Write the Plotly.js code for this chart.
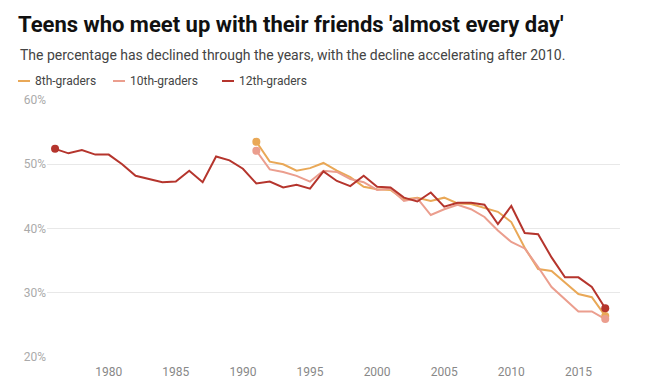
<!DOCTYPE html>
<html>
<head>
<meta charset="utf-8">
<script src="https://cdn.plot.ly/plotly-3.0.1.min.js"></script>
<style>html,body{margin:0;padding:0;background:#fff;}#chart{width:661px;height:385px;}</style>
</head>
<body>
<div id="chart"></div>
<script>
const years12 = [1976,1977,1978,1979,1980,1981,1982,1983,1984,1985,1986,1987,1988,1989,1990,1991,1992,1993,1994,1995,1996,1997,1998,1999,2000,2001,2002,2003,2004,2005,2006,2007,2008,2009,2010,2011,2012,2013,2014,2015,2016,2017];
const grade12 = [52.4,51.7,52.2,51.5,51.5,50.0,48.2,47.7,47.2,47.3,49.0,47.2,51.2,50.6,49.3,47.0,47.3,46.4,46.8,46.2,48.9,47.4,46.6,48.2,46.5,46.4,44.8,44.2,45.6,43.4,44.0,44.0,43.7,40.7,43.5,39.3,39.1,35.5,32.4,32.4,30.9,27.6];
const years810 = [1991,1992,1993,1994,1995,1996,1997,1998,1999,2000,2001,2002,2003,2004,2005,2006,2007,2008,2009,2010,2011,2012,2013,2014,2015,2016,2017];
const grade8 = [53.5,50.4,50.0,49.0,49.4,50.2,49.0,48.0,46.5,46.1,46.0,44.5,44.8,44.3,44.8,43.9,43.8,43.2,42.6,41.0,37.0,33.7,33.4,31.6,29.8,29.3,26.4];
const grade10 = [52.1,49.2,48.8,48.2,47.3,49.0,48.8,47.7,47.2,46.0,46.2,44.3,44.7,42.1,43.0,43.7,43.0,41.8,39.7,37.9,36.9,34.0,30.9,29.0,27.1,27.1,25.9];
const seriesNames = ['8th-graders','10th-graders','12th-graders'];
const tickVals = [20,30,40,50,60];
const tickText = ['20%','30%','40%','50%','60%'];
const xTicks = [1980,1985,1990,1995,2000,2005,2010,2015];

const colors = ['#e9a857','#eb9e8e','#b5352d'];
const series = [[years810, grade8],[years810, grade10],[years12, grade12]];
const traces = [];
series.forEach((s,i)=>{
  traces.push({x:s[0], y:s[1], type:'scatter', mode:'lines', name:seriesNames[i],
    line:{color:colors[i], width:2}, showlegend:false});
});
series.forEach((s,i)=>{
  const n = s[0].length;
  traces.push({x:[s[0][0], s[0][n-1]], y:[s[1][0], s[1][n-1]], type:'scatter', mode:'markers',
    showlegend:false, marker:{color:colors[i], size:8}});
});

// custom legend (short line swatches like the reference)
const W = 661, H = 385, L = 47, R = 41, T = 100, B = 28;
const pw = W - L - R, ph = H - T - B;
const px = v => (v - L) / pw;
const py = v => (H - B - v) / ph;
const legendX = [18, 113, 222];
const legendY = 81;
const shapes = [], annotations = [];
seriesNames.forEach((nm,i)=>{
  shapes.push({type:'line', xref:'paper', yref:'paper', x0:px(legendX[i]), x1:px(legendX[i]+12),
    y0:py(legendY), y1:py(legendY), line:{color:colors[i], width:2}});
  annotations.push({text:nm, xref:'paper', yref:'paper', x:px(legendX[i]+15), y:py(legendY),
    xanchor:'left', yanchor:'middle', showarrow:false,
    font:{family:'Roboto, sans-serif', size:12, color:'#444'}});
});
annotations.push({text:'The percentage has declined through the years, with the decline accelerating after 2010.',
  xref:'paper', yref:'paper', x:px(18), y:py(55), xanchor:'left', yanchor:'middle', showarrow:false,
  font:{family:'Roboto, sans-serif', size:14, color:'#444'}});

const layout = {
  width:W, height:H,
  margin:{l:L, r:R, t:T, b:B},
  paper_bgcolor:'#fff', plot_bgcolor:'#fff',
  font:{family:'Roboto, sans-serif', color:'#888', size:12},
  title:{text:"Teens who meet up with their friends 'almost every day'",
    font:{family:'Roboto, sans-serif', size:22, color:'#111', weight:700},
    x:18/W, xanchor:'left', xref:'container', y:1-24/H, yanchor:'middle', yref:'container'},
  annotations:annotations,
  shapes:shapes,
  showlegend:false,
  xaxis:{range:[1975.4,2018.1], tickvals:xTicks, showgrid:false, zeroline:false, showline:false,
    ticks:'outside', ticklen:4, tickcolor:'rgba(0,0,0,0)', tickfont:{size:12, color:'#888'}},
  yaxis:{range:[20,60], tickvals:tickVals, ticktext:tickText, showgrid:true, gridcolor:'#e8e8e8',
    zeroline:false, showline:false, ticks:'', tickfont:{size:12, color:'#aaa'}}
};
Plotly.newPlot('chart', traces, layout, {displayModeBar:false, staticPlot:true});
</script>
</body>
</html>
